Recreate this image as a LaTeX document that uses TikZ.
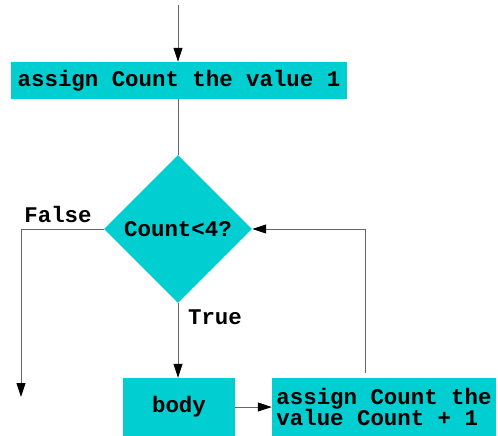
\documentclass[tikz,border=0pt]{standalone}
\usepackage{fontspec}
\setmonofont{Liberation Mono}
\usetikzlibrary{arrows.meta,shapes.geometric}
\definecolor{boxcyan}{RGB}{0,206,209}
\tikzset{
  flow/.style={draw=black!60, line width=1pt, -{Triangle[length=14pt,width=9pt,color=black]}},
  line/.style={draw=black!60, line width=1pt},
  stepbox/.style={rectangle, fill=boxcyan, inner sep=0pt},
  testbox/.style={diamond, fill=boxcyan, inner sep=0pt, minimum width=148pt, minimum height=148pt},
  lbl/.style={inner sep=0pt}
}
\begin{document}
\begin{tikzpicture}[x=1pt, y=-1pt, font=\fontsize{22.4}{21}\selectfont\ttfamily\bfseries]
  \useasboundingbox (0,0) rectangle (498,436);
  % boxes
  \coordinate (start) at (178,5);
  \node[stepbox, minimum width=336pt, minimum height=37pt] (init) at (179,80.5) {assign Count the value 1};
  \node[testbox] (test) at (178,229) {Count<4?};
  \node[stepbox, minimum width=112pt, minimum height=58pt] (body) at (179,407) {body};
  \node[stepbox, minimum width=224pt, minimum height=58pt, align=left] (incr) at (384,407) {assign Count the\\value Count + 1};
  \coordinate (exit) at (21,397);
  \coordinate (back) at (365,373);
  % labels
  \node[lbl] (false) at (58,214) {False};
  \node[lbl] (true) at (215,317) {True};
  % connectors
  \draw[flow] (start) -- (init.north -| start);
  \draw[line] (init.south -| test.north) -- (test.north);
  \draw[flow] (test.west) -| (exit);
  \draw[flow] (test.south) -- (test.south |- body.north);
  \draw[flow] (body.east) -- (incr.west);
  \draw[flow] (back) |- (test.east);
\end{tikzpicture}
\end{document}
